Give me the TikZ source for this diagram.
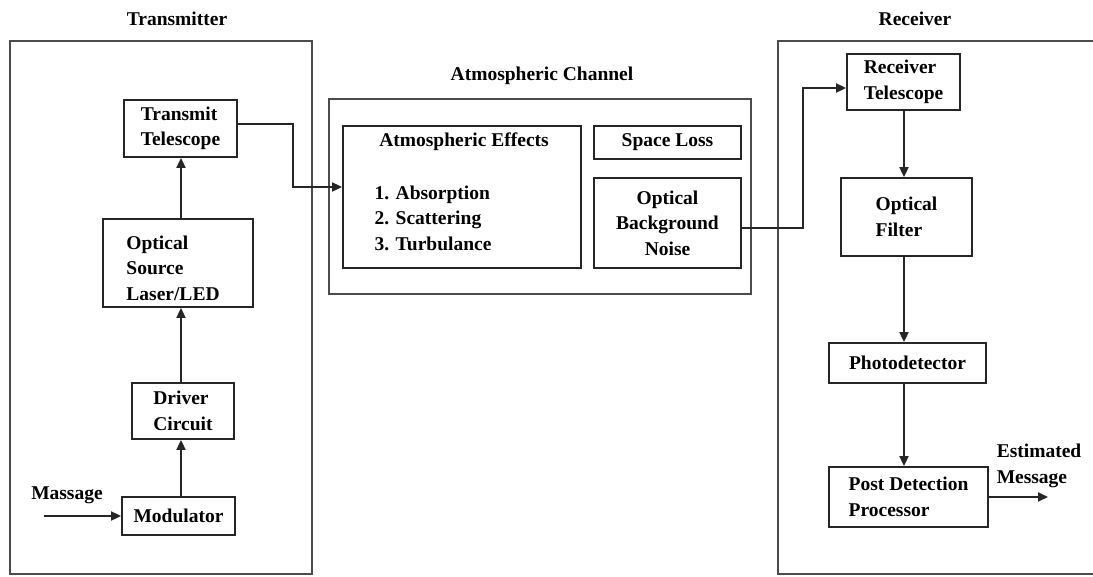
\documentclass[tikz,border=0pt]{standalone}
\usepackage{fontspec}
\setmainfont{Liberation Serif}
\usetikzlibrary{arrows.meta,calc}
\begin{document}
\begin{tikzpicture}[x=1pt,y=-1pt,
  txt/.style={font=\fontsize{19.5}{25.5}\selectfont\bfseries},
  blk/.style={txt, rectangle, draw=black!85, line width=1.8pt, inner sep=0pt, align=left},
  outer/.style={rectangle, draw=black!70, line width=2pt, inner sep=0pt},
  lbl/.style={txt, align=left, inner sep=0pt},
  arr/.style={line width=1.8pt, draw=black!85, -{Triangle[length=10pt,width=9pt]}},
]
\useasboundingbox[fill=white] (0,0) rectangle (1093,576);

% titles
\node[lbl] (ttitle) at (177,19) {Transmitter};
\node[lbl] (ctitle) at (542,76) {Atmospheric Channel};
\node[lbl] (rtitle) at (915,19) {Receiver};

% outer boxes
\node[outer, minimum width=302pt, minimum height=533pt] (tx) at (161,307.5) {};
\node[outer, minimum width=422pt, minimum height=195pt] (ch) at (540,196.5) {};
\draw[line width=2pt, draw=black!70] (1100,41) -- (778,41) -- (778,574) -- (1100,574);

% transmitter blocks
\node[blk, minimum width=113pt, minimum height=57pt] (tt) at (180.5,128.5) {Transmit\\Telescope};
\node[blk, minimum width=150pt, minimum height=88pt] (os) at (178,263) {};
\node[lbl] (ostxt) at (173,268) {Optical\\Source\\Laser/LED};
\node[blk, minimum width=102pt, minimum height=56pt] (dc) at (183,411) {Driver\\Circuit};
\node[blk, minimum width=113pt, minimum height=38pt] (mod) at (178.5,516) {Modulator};
\node[lbl] (msg) at (67,495) {Massage};
\coordinate (msgin) at (44,516);
\coordinate (txaxis) at (181,0);

% channel blocks
\node[blk, minimum width=238pt, minimum height=142pt] (ae) at (462,197) {};
\node[lbl] (aehead) at (464,142) {Atmospheric Effects};
\node[lbl] (aelist) at (433,218) {1. Absorption\\2. Scattering\\3. Turbulance};
\node[blk, minimum width=147pt, minimum height=33pt] (sl) at (667.5,142.5) {Space Loss};
\node[blk, minimum width=147pt, minimum height=90pt, align=center] (obn) at (667.5,223) {Optical\\Background\\Noise};

% receiver blocks
\node[blk, minimum width=113pt, minimum height=56pt] (rt) at (903.5,82) {Receiver\\Telescope};
\node[blk, minimum width=131pt, minimum height=78pt] (of) at (906.5,217) {Optical\\Filter};
\node[blk, minimum width=157pt, minimum height=40pt] (pd) at (907.5,363) {Photodetector};
\node[blk, minimum width=159pt, minimum height=60pt] (pdp) at (908.5,497) {Post Detection\\Processor};
\node[lbl] (est) at (1039,466) {Estimated\\Message};
\coordinate (estout) at (1048,497);
\coordinate (rxaxis) at (904,0);

% transmitter connectors
\draw[arr] (msgin) -- (mod.west);
\draw[arr] (txaxis |- mod.north) -- (txaxis |- dc.south);
\draw[arr] (txaxis |- dc.north) -- (txaxis |- os.south);
\draw[arr] (txaxis |- os.north) -- (txaxis |- tt.south);

% to channel
\draw[arr] ([yshift=4.5pt]tt.east) -- ++(55,0) |- ([yshift=10pt]ae.west);
% to receiver
\draw[arr] ([yshift=-5pt]obn.east) -- ++(61,0) |- ([yshift=-6pt]rt.west);

% receiver connectors
\draw[arr] (rxaxis |- rt.south) -- (rxaxis |- of.north);
\draw[arr] (rxaxis |- of.south) -- (rxaxis |- pd.north);
\draw[arr] (rxaxis |- pd.south) -- (rxaxis |- pdp.north);
\draw[arr] (pdp.east) -- (estout);
\end{tikzpicture}
\end{document}
